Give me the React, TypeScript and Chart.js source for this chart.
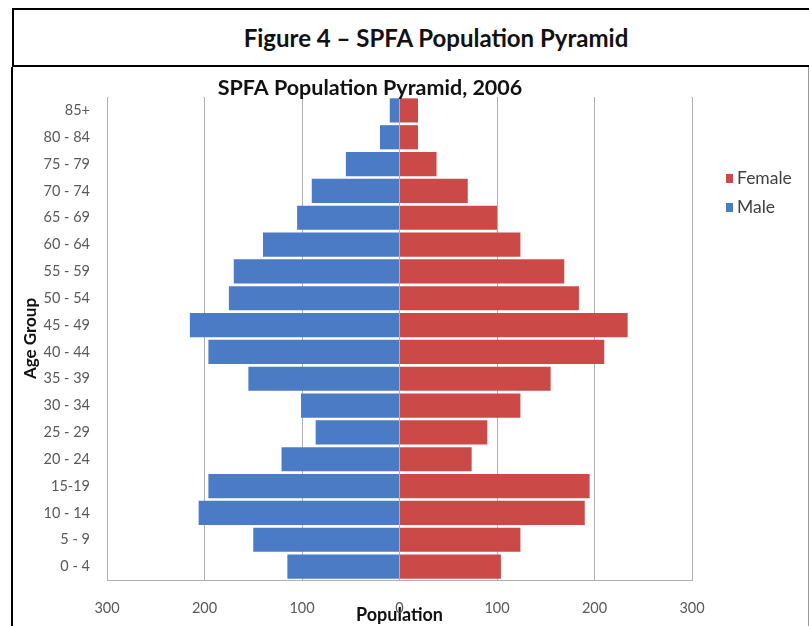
import React, { useEffect, useRef } from "react";
import { Chart, registerables } from "chart.js";

Chart.register(...registerables);

const pageTitle = "Figure 4 – SPFA Population Pyramid";
const chartTitle = "SPFA Population Pyramid, 2006";
const ageGroups = ["0 - 4", "5 - 9", "10 - 14", "15-19", "20 - 24", "25 - 29", "30 - 34", "35 - 39", "40 - 44", "45 - 49", "50 - 54", "55 - 59", "60 - 64", "65 - 69", "70 - 74", "75 - 79", "80 - 84", "85+"];
const maleValues = [115, 150, 206, 196, 121, 86, 101, 155, 196, 215, 175, 170, 140, 105, 90, 55, 20, 10];
const femaleValues = [104, 124, 190, 195, 74, 90, 124, 155, 210, 234, 184, 169, 124, 100, 70, 38, 19, 19];
const xTicks = [-300, -200, -100, 0, 100, 200, 300];

const FONT = "Lato, 'Open Sans', sans-serif";

const overlayPlugin = {
  id: "overlay",
  afterDraw(chart: any) {
    const ctx = chart.ctx;
    ctx.save();
    ctx.fillStyle = "#111";
    ctx.font = `bold 21.5px ${FONT}`;
    ctx.textAlign = "center";
    ctx.textBaseline = "middle";
    ctx.fillText(chartTitle, 357, 21);
    const ds = chart.data.datasets.slice().reverse();
    ds.forEach((d: any, i: number) => {
      const y = 111 + i * 29;
      ctx.fillStyle = d.backgroundColor;
      ctx.fillRect(713, y - 4, 7, 9);
      ctx.fillStyle = "#404040";
      ctx.font = `17.5px ${FONT}`;
      ctx.textAlign = "left";
      ctx.fillText(d.label, 724, y);
    });
    ctx.restore();
  },
};

function PyramidChart() {
  const ref = useRef<HTMLCanvasElement>(null);
  useEffect(() => {
    if (!ref.current) return;
    const chart = new Chart(ref.current, {
      type: "bar",
      data: {
        labels: ageGroups,
        datasets: [
          { label: "Male", data: maleValues.map((v) => -v), backgroundColor: "#4a7bc4", barPercentage: 0.9, categoryPercentage: 1 },
          { label: "Female", data: femaleValues, backgroundColor: "#cb4a47", barPercentage: 0.9, categoryPercentage: 1 },
        ],
      },
      options: {
        indexAxis: "y",
        animation: false,
        responsive: false,
        maintainAspectRatio: false,
        layout: { padding: { left: 4, top: 30, right: 116, bottom: 0 } },
        plugins: { legend: { display: false }, title: { display: false }, tooltip: { enabled: false } },
        scales: {
          x: {
            stacked: true,
            min: -300,
            max: 300,
            afterBuildTicks: (s: any) => { s.ticks = xTicks.map((v) => ({ value: v })); },
            afterFit: (s: any) => { s.height = 46; },
            grid: { color: "#b0b0b0", drawTicks: false },
            border: { display: true, color: "#b0b0b0" },
            ticks: {
              padding: 20,
              color: "#595959",
              font: { family: FONT, size: 14.5 },
              callback: (v: any) => String(Math.abs(Number(v))),
            },
            title: { display: true, text: "Population", color: "#111", font: { family: FONT, size: 18, weight: "bold" }, padding: { top: 0, bottom: 0 } },
          },
          y: {
            stacked: true,
            reverse: true,
            afterFit: (s: any) => { s.width = 90; },
            grid: { display: false, drawTicks: false },
            border: { display: true, color: "#b0b0b0" },
            ticks: { padding: 17, color: "#595959", font: { family: FONT, size: 14.5 } },
            title: { display: true, text: "Age Group", color: "#111", font: { family: FONT, size: 17, weight: "bold" }, padding: { top: 3, bottom: 3 } },
          },
        },
      },
      plugins: [overlayPlugin],
    } as any);
    return () => chart.destroy();
  }, []);
  return <canvas ref={ref} width={795} height={559} style={{ display: "block", width: 795, height: 559 }} />;
}

export default function App() {
  return (
    <div style={{ position: "fixed", inset: 0, overflow: "hidden", background: "#fff" }}>
      <div
        style={{
          position: "absolute",
          left: 12,
          top: 8,
          width: 796,
          height: 55,
          borderTop: "2px solid #000",
          borderLeft: "2px solid #000",
          borderBottom: "2px solid #000",
          borderRight: "1px solid #ddd",
          boxSizing: "content-box",
        }}
      >
        <div
          style={{
            position: "absolute",
            left: 0,
            top: 0,
            width: 844,
            height: 55,
            lineHeight: "55px",
            textAlign: "center",
            fontFamily: FONT,
            fontWeight: 700,
            fontSize: 24,
            color: "#111",
          }}
        >
          {pageTitle}
        </div>
      </div>
      <div
        style={{
          position: "absolute",
          left: 11,
          top: 67,
          width: 795,
          height: 570,
          borderLeft: "2px solid #000",
          borderRight: "1px solid #999",
        }}
      >
        <PyramidChart />
      </div>
    </div>
  );
}
